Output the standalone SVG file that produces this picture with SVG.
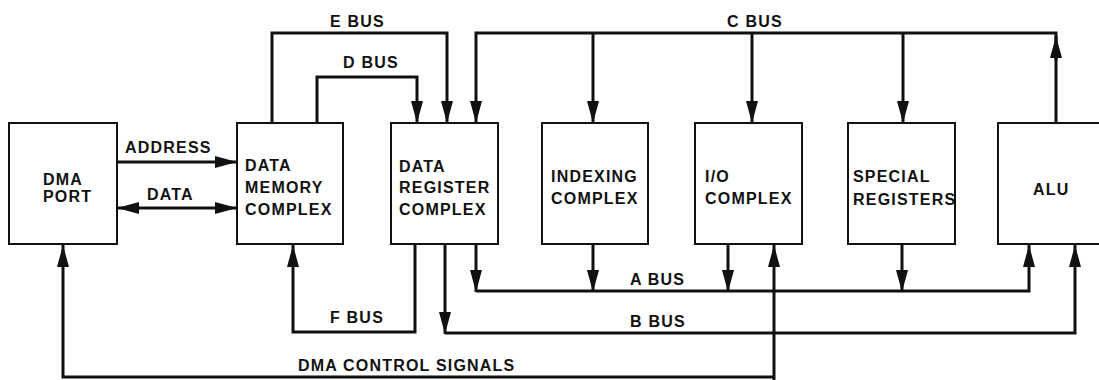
<svg xmlns="http://www.w3.org/2000/svg" width="1099" height="380" viewBox="0 0 1099 380">
<defs>
<marker id="ah" markerUnits="userSpaceOnUse" markerWidth="22" markerHeight="12" refX="22" refY="6" orient="auto">
<path d="M0,0 L22,6 L0,12 z" fill="#111"/>
</marker>
<marker id="ahs" markerUnits="userSpaceOnUse" markerWidth="22" markerHeight="12" refX="0" refY="6" orient="auto">
<path d="M22,0 L0,6 L22,12 z" fill="#111"/>
</marker>
<style>
.box{fill:#fff;stroke:#111;stroke-width:2}
.t{font-family:"Liberation Sans",Arial,sans-serif;font-weight:bold;font-size:16px;letter-spacing:1.2px;fill:#111}
.c{fill:none;stroke:#111;stroke-width:3;stroke-linejoin:miter}
.a{marker-end:url(#ah)}
</style>
</defs>
<rect width="1099" height="380" fill="#fff"/>
<g id="connectors">
<path class="c a" d="M117,162 H237"/>
<path class="c a" d="M117,208 H237" marker-start="url(#ahs)"/>
<path class="c a" d="M272,123 V33 H447 V123"/>
<path class="c a" d="M317,123 V77 H417 V123"/>
<path class="c a" d="M1056,123 V36"/>
<path class="c a" d="M1056,60 V33 H476 V123"/>
<path class="c a" d="M593,33 V123"/>
<path class="c a" d="M752,33 V123"/>
<path class="c a" d="M903,33 V123"/>
<path class="c a" d="M476,244 V292"/>
<path class="c a" d="M593,244 V292"/>
<path class="c a" d="M728,244 V292"/>
<path class="c a" d="M902,244 V292"/>
<path class="c a" d="M476,291 H1029 V245"/>
<path class="c a" d="M445,244 V334"/>
<path class="c a" d="M445,333 H1075 V245"/>
<path class="c a" d="M415,244 V332 H293 V245"/>
<path class="c a" d="M774,380 V245"/>
<path class="c a" d="M774,377 H63 V245"/>
<text class="t" x="125" y="153">ADDRESS</text>
<text class="t" x="147" y="200">DATA</text>
<text class="t" x="330" y="27">E BUS</text>
<text class="t" x="343" y="68">D BUS</text>
<text class="t" x="727" y="27">C BUS</text>
<text class="t" x="630" y="285">A BUS</text>
<text class="t" x="630" y="327">B BUS</text>
<text class="t" x="330" y="323">F BUS</text>
<text class="t" x="298" y="371">DMA CONTROL SIGNALS</text>
</g>
<g id="dma-port">
<rect class="box" x="9" y="123" width="108" height="121"/>
<text class="t" x="43" y="185">DMA</text>
<text class="t" x="43" y="202">PORT</text>
</g>
<g id="data-memory-complex">
<rect class="box" x="237" y="123" width="106" height="121"/>
<text class="t" x="245" y="171">DATA</text>
<text class="t" x="245" y="193">MEMORY</text>
<text class="t" x="245" y="215">COMPLEX</text>
</g>
<g id="data-register-complex">
<rect class="box" x="391" y="123" width="107" height="121"/>
<text class="t" x="399" y="172">DATA</text>
<text class="t" x="399" y="193">REGISTER</text>
<text class="t" x="399" y="215">COMPLEX</text>
</g>
<g id="indexing-complex">
<rect class="box" x="542" y="123" width="106" height="121"/>
<text class="t" x="551" y="182">INDEXING</text>
<text class="t" x="551" y="204">COMPLEX</text>
</g>
<g id="io-complex">
<rect class="box" x="695" y="123" width="107" height="121"/>
<text class="t" x="705" y="182">I/O</text>
<text class="t" x="705" y="204">COMPLEX</text>
</g>
<g id="special-registers">
<rect class="box" x="848" y="123" width="107" height="121"/>
<text class="t" x="853" y="182">SPECIAL</text>
<text class="t" x="853" y="205">REGISTERS</text>
</g>
<g id="alu">
<rect class="box" x="998" y="123" width="112" height="121"/>
<text class="t" x="1033" y="195">ALU</text>
</g>
</svg>
